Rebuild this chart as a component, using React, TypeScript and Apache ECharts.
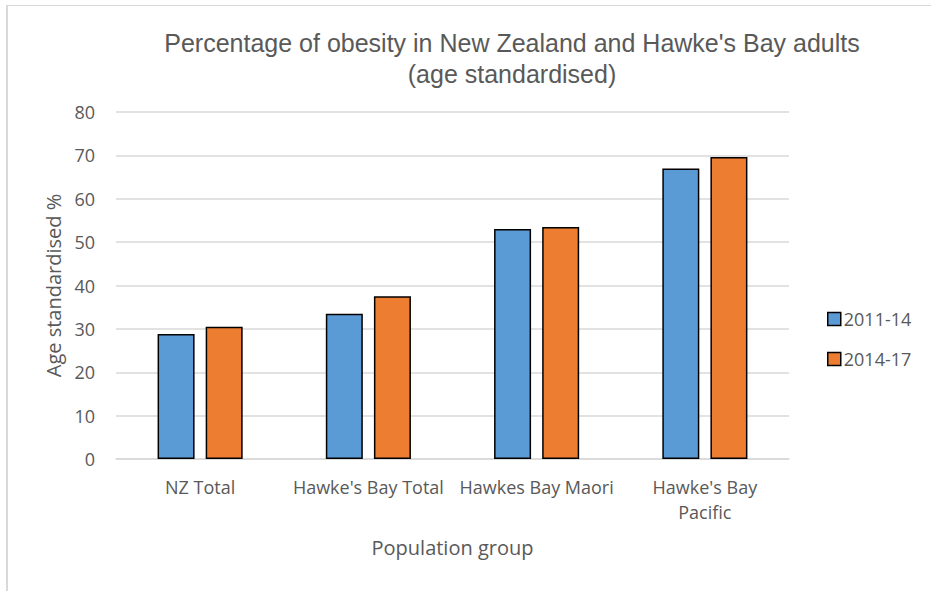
import React, { useEffect, useRef } from "react";
import * as echarts from "echarts";

const categories = ["NZ Total", "Hawke's Bay Total", "Hawkes Bay Maori", "Hawke's Bay Pacific"];
const series2011_14 = [28.8, 33.5, 53.0, 67.0];
const series2014_17 = [30.5, 37.5, 53.5, 69.6];
const seriesNames = ["2011-14", "2014-17"];
const yTicks = { min: 0, max: 80, interval: 10 };

const TEXT = "#595959";
const BODY_FONT = "'Open Sans', 'Noto Sans', sans-serif";

export default function App() {
  const ref = useRef<HTMLDivElement>(null);

  useEffect(() => {
    document.body.style.margin = "0";
    if (!ref.current) return;
    const chart = echarts.init(ref.current, null, { renderer: "svg" });
    const barStyle = (color: string) => ({
      color,
      borderColor: "#000000",
      borderWidth: 1.5,
    });
    chart.setOption({
      animation: false,
      backgroundColor: "#ffffff",
      title: {
        text: "Percentage of obesity in New Zealand and Hawke's Bay adults\n(age standardised)",
        left: 507,
        top: 22,
        textAlign: "center",
        textStyle: {
          fontFamily: "'Liberation Sans', Arial, sans-serif",
          fontWeight: "normal",
          fontSize: 25,
          lineHeight: 31,
          color: TEXT,
        },
      },
      legend: {
        orient: "vertical",
        left: 822,
        top: 305,
        itemWidth: 13,
        itemHeight: 13,
        itemGap: 22,
        icon: "rect",
        data: seriesNames,
        textStyle: { fontFamily: BODY_FONT, fontSize: 18, color: TEXT, padding: [0, 0, 0, -2] },
        itemStyle: { borderColor: "#000000", borderWidth: 1.5 },
      },
      grid: { left: 116, right: 142, top: 112, bottom: 132, containLabel: false },
      xAxis: {
        type: "category",
        data: categories,
        name: "Population group",
        nameLocation: "middle",
        nameGap: 78,
        nameTextStyle: { fontFamily: BODY_FONT, fontSize: 20, color: TEXT },
        axisLine: { lineStyle: { color: "#D9D9D9", width: 1.5 } },
        axisTick: { show: false },
        axisLabel: {
          interval: 0,
          margin: 15,
          fontFamily: BODY_FONT,
          fontSize: 18,
          lineHeight: 25,
          color: TEXT,
          formatter: (v: string) => (v === "Hawke's Bay Pacific" ? "Hawke's Bay\nPacific" : v),
        },
      },
      yAxis: {
        type: "value",
        min: yTicks.min,
        max: yTicks.max,
        interval: yTicks.interval,
        name: "Age standardised %",
        nameLocation: "middle",
        nameGap: 52,
        nameTextStyle: { fontFamily: BODY_FONT, fontSize: 20, color: TEXT },
        axisLine: { show: false },
        axisTick: { show: false },
        axisLabel: { margin: 21, fontFamily: BODY_FONT, fontSize: 18, color: TEXT },
        splitLine: { lineStyle: { color: "#D9D9D9", width: 1.5 } },
      },
      series: [
        {
          name: seriesNames[0],
          type: "bar",
          data: series2011_14,
          barWidth: 37,
          barGap: "30%",
          itemStyle: barStyle("#5B9BD5"),
        },
        {
          name: seriesNames[1],
          type: "bar",
          data: series2014_17,
          barWidth: 37,
          barGap: "30%",
          itemStyle: barStyle("#ED7D31"),
        },
      ],
      graphic: [
        { type: "line", shape: { x1: 7, y1: 5, x2: 7, y2: 591 }, style: { stroke: "#D9D9D9", lineWidth: 2 } },
        { type: "line", shape: { x1: 6, y1: 5.5, x2: 931, y2: 5.5 }, style: { stroke: "#D9D9D9", lineWidth: 1 } },
      ],
    });
    return () => chart.dispose();
  }, []);

  return <div ref={ref} style={{ width: 931, height: 591 }} />;
}
